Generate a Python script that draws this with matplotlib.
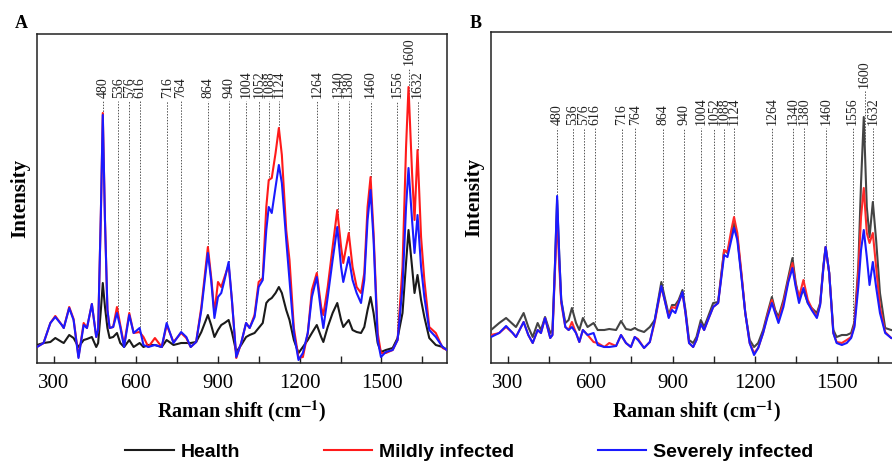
import numpy as np
import matplotlib
matplotlib.use("Agg")
import matplotlib.pyplot as plt
from matplotlib.ticker import MultipleLocator

# ---- data (intensities in arbitrary units) ----
# Panel A
xa = [238, 262, 287, 305, 329, 336, 356, 372, 390, 409, 421, 439, 455, 462, 472, 479, 487, 496,
      504, 517, 531, 543, 557, 576, 592, 614, 628, 646, 670, 695, 713, 738, 766, 785, 801, 821,
      840, 864, 876, 888, 901, 913, 925, 940, 952, 968, 986, 1004, 1017, 1035, 1050, 1065, 1078,
      1087, 1098, 1112, 1124, 1135, 1151, 1163, 1179, 1196, 1212, 1230, 1245, 1263, 1279, 1287,
      1303, 1321, 1338, 1352, 1360, 1380, 1394, 1409, 1425, 1437, 1449, 1460, 1471, 1486, 1498,
      1516, 1541, 1559, 1577, 1590, 1599, 1612, 1621, 1632, 1645, 1657, 1675, 1699, 1724, 1740]
health_a = [18, 20, 21, 25, 21, 20, 28, 25, 16, 23, 24, 26, 16, 20, 53, 80, 56, 35,
            25, 26, 30, 20, 16, 23, 16, 20, 16, 18, 18, 16, 23, 18, 20, 20, 20, 21,
            31, 48, 38, 26, 33, 38, 40, 43, 31, 11, 18, 26, 28, 30, 35, 40, 60,
            63, 65, 70, 76, 70, 53, 43, 23, 10, 16, 23, 30, 38, 26, 21,
            36, 50, 60, 43, 36, 43, 33, 31, 30, 36, 53, 66, 50, 20, 11,
            13, 15, 25, 50, 100, 133, 96, 70, 88, 63, 46, 25, 18, 16, 13]
mild_a = [16, 20, 40, 47, 38, 35, 56, 44, 6, 40, 35, 59, 26, 33, 150, 250, 143, 53,
          35, 36, 56, 38, 18, 50, 30, 31, 26, 16, 25, 16, 38, 21, 30, 25, 16, 21,
          56, 116, 86, 50, 81, 76, 86, 98, 63, 5, 20, 40, 35, 48, 81, 85, 156,
          183, 185, 210, 235, 208, 133, 103, 35, 5, 6, 30, 73, 90, 56, 48,
          76, 116, 153, 116, 100, 130, 96, 76, 70, 90, 156, 186, 130, 30, 10,
          10, 13, 23, 96, 216, 276, 190, 143, 213, 126, 83, 36, 30, 15, 13]
severe_a = [16, 20, 40, 46, 38, 35, 55, 43, 5, 38, 35, 59, 26, 33, 150, 248, 143, 53,
            35, 36, 50, 36, 16, 48, 30, 35, 18, 16, 18, 16, 40, 20, 31, 26, 16, 21,
            53, 110, 83, 45, 66, 70, 83, 101, 63, 6, 20, 40, 35, 46, 76, 83, 133,
            156, 150, 176, 198, 180, 123, 83, 30, 3, 10, 30, 66, 86, 50, 35,
            66, 103, 136, 96, 81, 106, 83, 70, 60, 83, 143, 173, 123, 23, 6,
            11, 13, 23, 76, 156, 195, 143, 110, 148, 96, 66, 33, 26, 16, 13]

# Panel B
xb = [238, 268, 293, 317, 329, 357, 374, 390, 408, 420, 435, 454, 462, 471, 479, 487, 494, 509,
      521, 533, 548, 560, 573, 590, 612, 627, 651, 669, 694, 712, 730, 748, 762, 774, 796, 817,
      835, 859, 871, 886, 898, 910, 922, 936, 947, 960, 975, 987, 1003, 1015, 1029, 1048, 1066,
      1078, 1088, 1100, 1114, 1124, 1136, 1151, 1165, 1181, 1197, 1212, 1230, 1246, 1262, 1274,
      1286, 1304, 1322, 1337, 1349, 1361, 1377, 1393, 1407, 1426, 1438, 1450, 1458, 1471, 1486,
      1498, 1517, 1535, 1551, 1563, 1577, 1587, 1597, 1608, 1618, 1630, 1642, 1656, 1675, 1697, 1740]
health_b = [33, 40, 45, 39, 36, 50, 36, 26, 40, 33, 46, 30, 33, 96, 163, 106, 63, 40,
            43, 55, 40, 33, 45, 36, 40, 33, 33, 34, 33, 42, 34, 33, 35, 33, 31, 36,
            43, 81, 66, 48, 58, 58, 63, 73, 53, 23, 20, 26, 43, 36, 46, 60, 61,
            90, 113, 110, 128, 140, 126, 88, 50, 23, 16, 20, 33, 50, 66, 53,
            46, 63, 86, 105, 80, 65, 73, 60, 55, 50, 60, 98, 116, 90, 33,
            26, 28, 28, 30, 41, 96, 180, 246, 156, 126, 161, 123, 70, 35, 33, 31]
mild_b = [28, 30, 36, 30, 26, 41, 28, 20, 33, 30, 45, 25, 28, 90, 148, 96, 60, 36,
          33, 41, 30, 21, 33, 28, 21, 20, 16, 20, 17, 28, 20, 16, 26, 24, 15, 21,
          41, 76, 63, 46, 56, 55, 61, 70, 50, 20, 16, 23, 39, 33, 43, 56, 60,
          88, 113, 111, 133, 146, 130, 90, 50, 20, 10, 15, 30, 48, 63, 51,
          43, 60, 83, 100, 78, 66, 83, 63, 55, 46, 59, 96, 116, 90, 30,
          21, 20, 23, 26, 38, 90, 146, 175, 130, 120, 130, 96, 56, 31, 25, 23]
severe_b = [26, 30, 37, 30, 26, 41, 28, 20, 33, 30, 45, 25, 28, 96, 167, 106, 63, 36,
            33, 36, 30, 21, 33, 28, 30, 18, 16, 16, 17, 28, 20, 16, 26, 23, 15, 21,
            43, 77, 63, 45, 53, 50, 60, 71, 50, 20, 16, 23, 39, 33, 43, 56, 60,
            86, 108, 106, 123, 135, 123, 86, 50, 20, 8, 15, 30, 46, 60, 50,
            40, 56, 81, 95, 76, 60, 75, 60, 53, 45, 58, 96, 116, 90, 30,
            20, 18, 20, 25, 36, 76, 113, 133, 106, 78, 101, 76, 50, 30, 25, 23]

peaks = [480, 536, 576, 616, 716, 764, 864, 940, 1004, 1052, 1088, 1124,
         1264, 1340, 1380, 1460, 1556, 1600, 1632]
series_names = ["Health", "Mildly infected", "Severely infected"]
colors_a = ["#1a1a1a", "#ff1a1a", "#1a1aff"]
colors_b = ["#444444", "#ff2a2a", "#1a1aff"]

serif = "Liberation Serif"
sans = "Liberation Sans"
plt.rcParams["mathtext.fontset"] = "stix"

fig = plt.figure(figsize=(8.92, 4.63), dpi=100)
ax_a = fig.add_axes([37 / 892, 100 / 463, 410 / 892, 329 / 463])
ax_b = fig.add_axes([491 / 892, 100 / 463, 412 / 892, 331 / 463])


def draw_panel(ax, x, ys, colors, ymax, lab_y, lab_y_1600):
    handles = []
    for y, c, name in zip(ys, colors, series_names):
        h, = ax.plot(x, y, color=c, lw=1.5, label=name, zorder=3)
        handles.append(h)

    # dotted guide lines + rotated peak labels
    for p in peaks:
        top = max(np.interp(p, x, y) for y in ys)
        y0 = lab_y_1600 if p == 1600 else lab_y
        ax.plot([p, p], [top, y0 - 3], color="#555555", lw=0.7,
                linestyle=(0, (1.5, 1.5)), zorder=2)
        ax.text(p, y0, str(p), rotation=90, ha="center", va="bottom",
                fontsize=10, family=serif, color="#222222")

    ax.set_xlim(238, 1740)
    ax.set_ylim(0, ymax)
    ax.set_yticks([])
    ax.xaxis.set_major_locator(MultipleLocator(300))
    ax.xaxis.set_minor_locator(MultipleLocator(150))
    ax.tick_params(axis="x", which="both", direction="in", length=5, width=1,
                   labelsize=15, pad=8, color="#222222")
    for lbl in ax.get_xticklabels():
        lbl.set_family(serif)
    for s in ax.spines.values():
        s.set_color("#222222")
        s.set_linewidth(1.1)
    ax.set_xlabel(r"Raman shift (cm$^{\mathbf{-1}}$)", fontsize=14.5,
                  fontweight="bold", family=serif, labelpad=4)
    ax.set_ylabel("Intensity", fontsize=15, fontweight="bold", family=serif,
                  labelpad=5)
    return handles


handles = draw_panel(ax_a, xa, [health_a, mild_a, severe_a], colors_a, 329, 265, 298)
draw_panel(ax_b, xb, [health_b, mild_b, severe_b], colors_b, 331, 238, 275)

fig.text(15 / 892, 1 - 24 / 463, "A", fontsize=13, fontweight="bold",
         family=serif, va="center")
fig.text(470 / 892, 1 - 24 / 463, "B", fontsize=13, fontweight="bold",
         family=serif, va="center")

fig.legend(handles, series_names, loc="center", bbox_to_anchor=(0.526, 0.024),
           ncol=3, frameon=False, handlelength=2.5, handletextpad=0.35,
           columnspacing=4.3, borderpad=0.2,
           prop={"family": sans, "weight": "bold", "size": 14})

fig.savefig("out.png", dpi=100)
